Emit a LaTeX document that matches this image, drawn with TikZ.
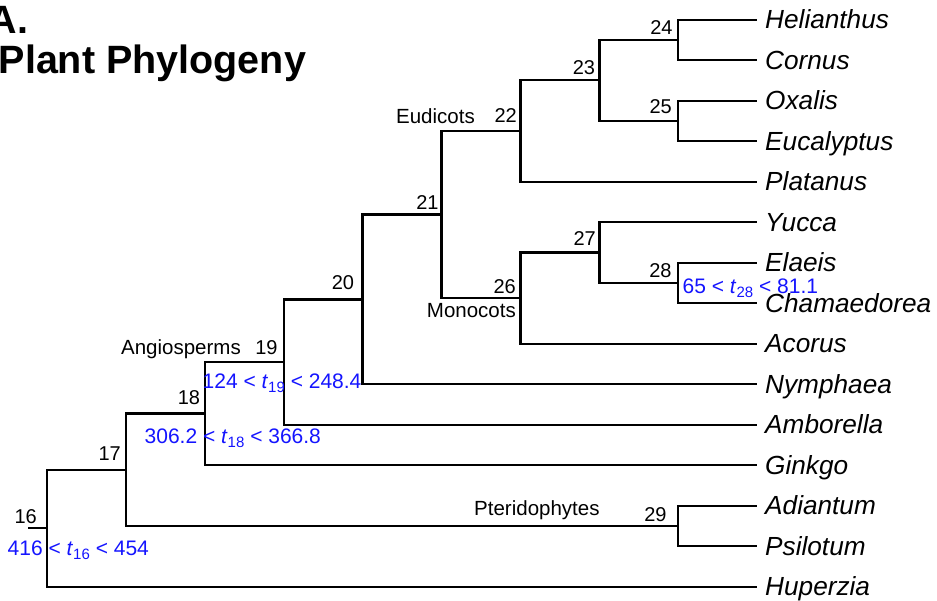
\documentclass[tikz,border=0pt]{standalone}
\usepackage{fontspec}
\setmainfont{Liberation Sans}
\definecolor{agecol}{RGB}{20,20,255}
\newcommand{\agesub}[1]{\textit{t}\raisebox{-4pt}{\fontsize{15}{15}\selectfont #1}}
\begin{document}
\begin{tikzpicture}[x=1pt,y=-1pt,
  branch/.style={line width=2.4pt,line join=miter},
  taxon/.style={anchor=base west,inner sep=0pt,font=\fontsize{26.2}{30}\selectfont\itshape},
  num/.style={anchor=base east,inner sep=0pt,font=\fontsize{20}{24}\selectfont},
  clade/.style={inner sep=0pt,font=\fontsize{20.5}{24}\selectfont},
  age/.style={anchor=base west,inner sep=0pt,text=agecol,font=\fontsize{21}{25}\selectfont},
  heading/.style={anchor=base west,inner sep=0pt,font=\fontsize{39.5}{44}\selectfont\bfseries}]
\useasboundingbox (0,0) rectangle (937,600);
% tips
\foreach \nm/\yy/\txt in {Hel/19.7/Helianthus,Cor/60.2/Cornus,Oxa/100.7/Oxalis,Euc/141.2/Eucalyptus,Pla/181.7/Platanus,Yuc/222.2/Yucca,Ela/262.7/Elaeis,Cha/303.2/Chamaedorea,Aco/343.7/Acorus,Nym/384.2/Nymphaea,Amb/424.7/Amborella,Gin/465.2/Ginkgo,Adi/505.7/Adiantum,Psi/546.2/Psilotum,Hup/586.7/Huperzia}{
  \coordinate (t\nm) at (757.1,\yy);
  \node[taxon] (l\nm) at (765,\yy+9) {\txt};
}
% internal nodes
\coordinate (root) at (28,528.2);
\coordinate (n16) at (47,528.2);
\coordinate (n17) at (125.9,469.8);
\coordinate (n18) at (204.8,413.6);
\coordinate (n19) at (283.7,361.7);
\coordinate (n20) at (362.6,299.4);
\coordinate (n21) at (441.5,214.3);
\coordinate (n22) at (520.4,130.9);
\coordinate (n23) at (599.3,80.2);
\coordinate (n24) at (678.2,39.9);
\coordinate (n25) at (678.2,120.9);
\coordinate (n26) at (520.4,297.8);
\coordinate (n27) at (599.3,252.4);
\coordinate (n28) at (678.2,283);
\coordinate (n29) at (678.2,526);
% branches
\draw[branch] (root) -- (n16);
\draw[branch] (n16) |- (n17); \draw[branch] (n16) |- (tHup);
\draw[branch] (n17) |- (n18); \draw[branch] (n17) |- (n29);
\draw[branch] (n18) |- (n19); \draw[branch] (n18) |- (tGin);
\draw[branch] (n19) |- (n20); \draw[branch] (n19) |- (tAmb);
\draw[branch] (n20) |- (n21); \draw[branch] (n20) |- (tNym);
\draw[branch] (n21) |- (n22); \draw[branch] (n21) |- (n26);
\draw[branch] (n22) |- (n23); \draw[branch] (n22) |- (tPla);
\draw[branch] (n23) |- (n24); \draw[branch] (n23) |- (n25);
\draw[branch] (n24) |- (tHel); \draw[branch] (n24) |- (tCor);
\draw[branch] (n25) |- (tOxa); \draw[branch] (n25) |- (tEuc);
\draw[branch] (n26) |- (n27); \draw[branch] (n26) |- (tAco);
\draw[branch] (n27) |- (tYuc); \draw[branch] (n27) |- (n28);
\draw[branch] (n28) |- (tEla); \draw[branch] (n28) |- (tCha);
\draw[branch] (n29) |- (tAdi); \draw[branch] (n29) |- (tPsi);
% node numbers
\node[num] (k16) at (37,523.3) {16};
\node[num] (k17) at (121,460) {17};
\node[num] (k18) at (200.3,404) {18};
\node[num] (k19) at (277.7,354) {19};
\node[num] (k20) at (354.3,289.3) {20};
\node[num] (k21) at (438.7,209.3) {21};
\node[num] (k22) at (517,122.7) {22};
\node[num] (k23) at (595.3,74) {23};
\node[num] (k24) at (672.7,34) {24};
\node[num] (k25) at (672,113.3) {25};
\node[num] (k26) at (516,293.3) {26};
\node[num] (k27) at (596,245) {27};
\node[num] (k28) at (671.7,277.3) {28};
\node[num] (k29) at (666.7,521.7) {29};
% clade labels
\node[clade,anchor=base east] (cEud) at (475,123.3) {Eudicots};
\node[clade,anchor=base east] (cMon) at (516,317.3) {Monocots};
\node[clade,anchor=base east] (cAng) at (241,354) {Angiosperms};
\node[clade,anchor=base west] (cPte) at (474,515) {Pteridophytes};
% age constraints
\node[age] (a16) at (7.5,555) {416 < \agesub{16} < 454};
\node[age] (a18) at (144.5,443.3) {306.2 < \agesub{18} < 366.8};
\node[age] (a19) at (202.5,388.3) {124 < \agesub{19} < 248.4};
\node[age] (a28) at (682.5,293.3) {65 < \agesub{28} < 81.1};
% title
\node[heading] (hA) at (-11.5,33.3) {A.};
\node[heading] (hT) at (-1.5,73) {Plant Phylogeny};
\end{tikzpicture}
\end{document}
